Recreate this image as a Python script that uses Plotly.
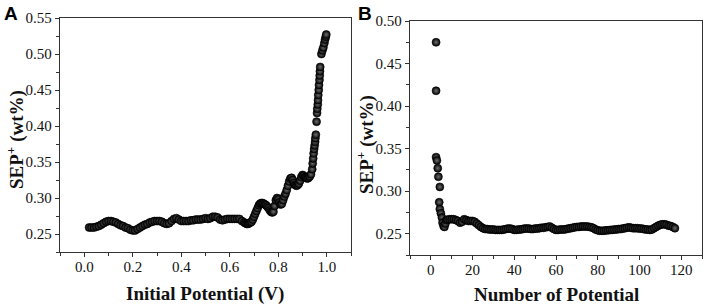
import plotly.graph_objects as go

# Panel A: SEP+ vs initial potential
a_potential = [
    0.02, 0.03, 0.04, 0.05, 0.06, 0.07, 0.08, 0.09, 0.10, 0.11, 0.12, 0.13, 0.14, 0.15,
    0.16, 0.17, 0.18, 0.19, 0.20, 0.21, 0.22, 0.23, 0.24, 0.25, 0.26, 0.27, 0.28, 0.29,
    0.30, 0.31, 0.32, 0.33, 0.34, 0.35, 0.36, 0.37, 0.38, 0.39, 0.40, 0.41, 0.42, 0.43,
    0.44, 0.45, 0.46, 0.47, 0.48, 0.49, 0.50, 0.51, 0.52, 0.53, 0.54, 0.55, 0.56, 0.57,
    0.58, 0.59, 0.60, 0.61, 0.62, 0.63, 0.64, 0.65, 0.66,
    0.665, 0.670, 0.675, 0.680, 0.685, 0.690, 0.695, 0.700, 0.705, 0.710, 0.715, 0.720,
    0.725, 0.730, 0.735, 0.740, 0.745, 0.750, 0.755, 0.760, 0.765, 0.770, 0.775, 0.780,
    0.785, 0.790, 0.795, 0.800, 0.805, 0.810, 0.815, 0.820, 0.825, 0.830, 0.835, 0.840,
    0.845, 0.850, 0.855, 0.860, 0.865, 0.870, 0.875, 0.880, 0.885, 0.890, 0.895, 0.900,
    0.905, 0.910, 0.915, 0.920, 0.925, 0.930, 0.935, 0.940,
    0.942, 0.944, 0.946, 0.948, 0.950, 0.952, 0.953, 0.955, 0.958, 0.960, 0.961, 0.963,
    0.964, 0.965, 0.967, 0.968, 0.970, 0.971, 0.972, 0.973, 0.978, 0.982, 0.986, 0.990,
    0.993, 0.996, 0.998,
]
a_sep = [
    0.259, 0.259, 0.259, 0.260, 0.261, 0.263, 0.265, 0.267, 0.268, 0.268, 0.267, 0.266, 0.264, 0.262,
    0.261, 0.259, 0.258, 0.256, 0.255, 0.255, 0.257, 0.259, 0.261, 0.263, 0.264, 0.266, 0.267, 0.268,
    0.268, 0.268, 0.267, 0.265, 0.264, 0.265, 0.268, 0.271, 0.272, 0.270, 0.268, 0.268, 0.268, 0.268,
    0.269, 0.269, 0.270, 0.270, 0.270, 0.271, 0.272, 0.271, 0.272, 0.274, 0.274, 0.273, 0.270, 0.269,
    0.270, 0.271, 0.271, 0.271, 0.271, 0.271, 0.271, 0.268, 0.266,
    0.265, 0.264, 0.264, 0.265, 0.266, 0.267, 0.270, 0.274, 0.278, 0.282, 0.286, 0.290,
    0.292, 0.293, 0.293, 0.292, 0.291, 0.290, 0.288, 0.286, 0.283, 0.281, 0.280, 0.281,
    0.289, 0.297, 0.300, 0.298, 0.294, 0.291, 0.292, 0.297, 0.302, 0.306, 0.311, 0.317,
    0.323, 0.327, 0.328, 0.325, 0.321, 0.318, 0.317, 0.318, 0.320, 0.324, 0.329, 0.332,
    0.331, 0.329, 0.328, 0.327, 0.328, 0.330, 0.333, 0.340,
    0.348, 0.355, 0.362, 0.368, 0.373, 0.378, 0.383, 0.388, 0.406, 0.418, 0.424, 0.430,
    0.436, 0.443, 0.450, 0.457, 0.464, 0.470, 0.476, 0.482, 0.500, 0.505, 0.509, 0.515,
    0.520, 0.524, 0.527,
]

# Panel B: SEP+ vs number of potential
b_number = [
    2.5, 2.5, 2.5, 2.9, 3.3, 3.6, 4.3, 4.0, 4.3, 4.8, 5.3, 5.6, 6.1, 6.5, 7.0, 7.5,
    8, 9, 10, 11, 12, 13, 14, 15, 16, 17, 18, 19, 20, 21, 22, 23, 24, 25, 26, 27, 28,
    29, 30, 31, 32, 33, 34, 35, 36, 37, 38, 39, 40, 41, 42, 43, 44, 45, 46, 47, 48, 49,
    50, 51, 52, 53, 54, 55, 56, 57, 58, 59, 60, 61, 62, 63, 64, 65, 66, 67, 68, 69, 70,
    71, 72, 73, 74, 75, 76, 77, 78, 79, 80, 81, 82, 83, 84, 85, 86, 87, 88, 89, 90, 91,
    92, 93, 94, 95, 96, 97, 98, 99, 100, 101, 102, 103, 104, 105, 106, 107, 108, 109,
    110, 111, 112, 113, 114, 115, 116, 117,
]
b_sep = [
    0.475, 0.418, 0.340, 0.336, 0.327, 0.317, 0.305, 0.287, 0.279, 0.274, 0.269, 0.263, 0.259, 0.258, 0.262, 0.266,
    0.2665, 0.267, 0.267, 0.267, 0.266, 0.265, 0.263, 0.264, 0.267, 0.266, 0.265, 0.265, 0.265, 0.264, 0.262, 0.260,
    0.258, 0.2565, 0.2555, 0.2555, 0.255, 0.255, 0.255, 0.2545, 0.2545, 0.2545, 0.2545, 0.255, 0.2555, 0.256, 0.256,
    0.2555, 0.2545, 0.2545, 0.255, 0.255, 0.2555, 0.256, 0.256, 0.256, 0.2555, 0.2555, 0.256, 0.256, 0.2565, 0.257,
    0.257, 0.2575, 0.258, 0.2585, 0.257, 0.2555, 0.2545, 0.2545, 0.255, 0.255, 0.255, 0.2555, 0.256, 0.2565, 0.257,
    0.2575, 0.258, 0.258, 0.2585, 0.2585, 0.2585, 0.2585, 0.258, 0.2575, 0.2565, 0.255, 0.254, 0.2535, 0.2535,
    0.2535, 0.254, 0.254, 0.2545, 0.2545, 0.255, 0.255, 0.2555, 0.2555, 0.256, 0.2565, 0.257, 0.2575, 0.257,
    0.2565, 0.2565, 0.2565, 0.256, 0.256, 0.2555, 0.255, 0.255, 0.2545, 0.255, 0.2565, 0.258, 0.2595, 0.2605,
    0.261, 0.261, 0.2605, 0.2595, 0.259, 0.258, 0.2565,
]

a_xticks = [0.0, 0.2, 0.4, 0.6, 0.8, 1.0]
a_yticks = [0.25, 0.30, 0.35, 0.40, 0.45, 0.50, 0.55]
b_xticks = [0, 20, 40, 60, 80, 100, 120]
b_yticks = [0.25, 0.30, 0.35, 0.40, 0.45, 0.50]

SERIF = "Liberation Serif, Times New Roman, serif"
W, H = 706, 307

marker = dict(size=8, color="black", symbol="circle",
              gradient=dict(type="radial", color="#6e6e6e"),
              line=dict(color="black", width=0.6))

fig = go.Figure()
fig.add_trace(go.Scatter(x=a_potential, y=a_sep, mode="markers", marker=marker,
                         xaxis="x", yaxis="y", showlegend=False))
fig.add_trace(go.Scatter(x=b_number, y=b_sep, mode="markers", marker=marker,
                         xaxis="x2", yaxis="y2", showlegend=False))

axis_common = dict(showline=True, linecolor="#333", linewidth=1.3, mirror=True,
                   ticks="outside", ticklen=4, tickwidth=1.2, tickcolor="#333",
                   showgrid=False, zeroline=False, automargin=False,
                   tickfont=dict(family=SERIF, size=15, color="#111"))

def dom_x(a, b):
    return [a / W, b / W]

def dom_y(top, bottom):
    return [1 - bottom / H, 1 - top / H]

fig.update_layout(
    width=W, height=H,
    margin=dict(l=0, r=0, t=0, b=0),
    paper_bgcolor="white", plot_bgcolor="white",
    xaxis=dict(domain=dom_x(60, 351), range=[-0.1, 1.1], tickvals=a_xticks,
               ticktext=[f"{v:.1f}" for v in a_xticks], anchor="y", ticklabelstandoff=-3,
               minor=dict(dtick=0.1, ticks="outside", ticklen=2.5, tickcolor="#333"),
               **axis_common),
    yaxis=dict(domain=dom_y(18, 252), range=[0.225, 0.55], tickvals=a_yticks,
               ticktext=[f"{v:.2f}" for v in a_yticks], anchor="x",
               minor=dict(dtick=0.025, ticks="outside", ticklen=2.5, tickcolor="#333"),
               **axis_common),
    xaxis2=dict(domain=dom_x(410, 702), range=[-10, 130], tickvals=b_xticks,
                ticktext=[str(v) for v in b_xticks], anchor="y2", ticklabelstandoff=-3,
                minor=dict(dtick=10, ticks="outside", ticklen=2.5, tickcolor="#333"),
                **axis_common),
    yaxis2=dict(domain=dom_y(21, 255), range=[0.225, 0.50], tickvals=b_yticks,
                ticktext=[f"{v:.2f}" for v in b_yticks], anchor="x2",
                minor=dict(dtick=0.025, ticks="outside", ticklen=2.5, tickcolor="#333"),
                **axis_common),
)

title_font = dict(family=SERIF, size=19, color="#111")
label_font = dict(family="Arial, Liberation Sans, sans-serif", size=19, color="black")
annots = [
    dict(text="<b>A</b>", x=2 / W, y=1 - 1 / H, xanchor="left", yanchor="top", font=label_font),
    dict(text="<b>B</b>", x=356 / W, y=1 - 1 / H, xanchor="left", yanchor="top", font=label_font),
    dict(text="<b>Initial Potential (V)</b>", x=205 / W, y=1 - 294 / H, xanchor="center",
         yanchor="middle", font=title_font),
    dict(text="<b>Number of Potential</b>", x=556 / W, y=1 - 294 / H, xanchor="center",
         yanchor="middle", font=title_font),
    dict(text="<b>SEP<sup>+</sup> (wt%)</b>", x=15 / W, y=1 - 140 / H, xanchor="center",
         yanchor="middle", textangle=-90, font=title_font),
    dict(text="<b>SEP<sup>+</sup> (wt%)</b>", x=365 / W, y=1 - 145 / H, xanchor="center",
         yanchor="middle", textangle=-90, font=title_font),
]
for a in annots:
    a.update(xref="paper", yref="paper", showarrow=False)
fig.update_layout(annotations=annots)

fig.write_html("out.html", config={"displayModeBar": False},
               post_script="document.body.style.margin='0px';document.body.style.overflow='hidden';")
